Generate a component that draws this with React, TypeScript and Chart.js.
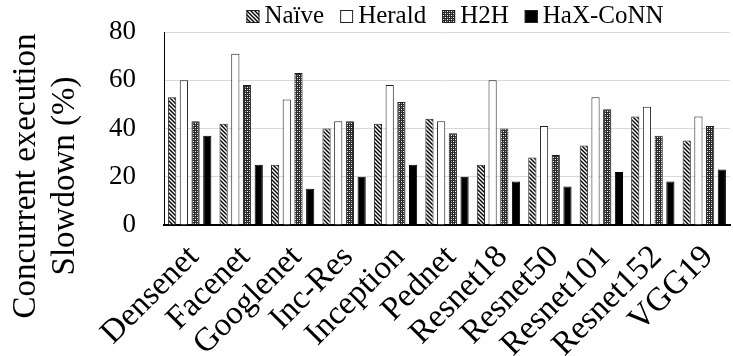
import React, { useEffect, useRef } from "react";
import { Chart, registerables } from "chart.js";

Chart.register(...registerables);

const categories = ["Densenet", "Facenet", "Googlenet", "Inc-Res", "Inception", "Pednet", "Resnet18", "Resnet50", "Resnet101", "Resnet152", "VGG19"];
const naive = [53, 42, 25, 40, 42, 44, 25, 28, 33, 45, 35];
const herald = [60, 71, 52, 43, 58, 43, 60, 41, 53, 49, 45];
const h2h = [43, 58, 63, 43, 51, 38, 40, 29, 48, 37, 41];
const haxconn = [37, 25, 15, 20, 25, 20, 18, 16, 22, 18, 23];
const yTicks = [0, 20, 40, 60, 80];
const seriesNames = ["Naïve", "Herald", "H2H", "HaX-CoNN"];
const yTitleLines = ["Concurrent execution", "Slowdown (%)"];

const FONT = "'Liberation Serif', 'Times New Roman', serif";

function stripePattern(): CanvasPattern | string {
  const c = document.createElement("canvas");
  c.width = 4;
  c.height = 4;
  const ctx = c.getContext("2d");
  if (!ctx) return "#888";
  ctx.fillStyle = "#ffffff";
  ctx.fillRect(0, 0, 4, 4);
  ctx.strokeStyle = "#000000";
  ctx.lineWidth = 1.4;
  ctx.beginPath();
  ctx.moveTo(-1, -1);
  ctx.lineTo(5, 5);
  ctx.moveTo(-1, 3);
  ctx.lineTo(1, 5);
  ctx.moveTo(3, -1);
  ctx.lineTo(5, 1);
  ctx.stroke();
  return ctx.createPattern(c, "repeat") || "#888";
}

function dotPattern(): CanvasPattern | string {
  const c = document.createElement("canvas");
  c.width = 4;
  c.height = 4;
  const ctx = c.getContext("2d");
  if (!ctx) return "#555";
  ctx.fillStyle = "#2a2a2a";
  ctx.fillRect(0, 0, 4, 4);
  ctx.fillStyle = "#ffffff";
  ctx.fillRect(1, 1, 1, 1);
  ctx.fillRect(3, 3, 1, 1);
  ctx.fillStyle = "#9a9a9a";
  ctx.fillRect(3, 1, 1, 1);
  ctx.fillRect(1, 3, 1, 1);
  return ctx.createPattern(c, "repeat") || "#555";
}

const extrasPlugin = {
  id: "extras",
  afterDraw(chart: any) {
    const ctx = chart.ctx as CanvasRenderingContext2D;
    const area = chart.chartArea;
    // y-axis title (two lines, rotated)
    ctx.save();
    ctx.fillStyle = "#000000";
    ctx.font = `33px ${FONT}`;
    ctx.textAlign = "center";
    ctx.textBaseline = "alphabetic";
    const baselines = [35, 74];
    yTitleLines.forEach((line, i) => {
      ctx.save();
      ctx.translate(baselines[i], 176);
      ctx.rotate(-Math.PI / 2);
      ctx.fillText(line, 0, 0);
      ctx.restore();
    });
    ctx.restore();

    // legend
    ctx.save();
    ctx.font = `25px ${FONT}`;
    ctx.textBaseline = "alphabetic";
    ctx.textAlign = "left";
    const box = 13;
    const gapText = 5;
    const gapItem = 16;
    const widths = chart.data.datasets.map((d: any) => box + gapText + ctx.measureText(d.label).width);
    const total = widths.reduce((a: number, b: number) => a + b, 0) + gapItem * (widths.length - 1);
    let x = (area.left + area.right) / 2 + 8 - total / 2;
    const baseY = 23;
    chart.data.datasets.forEach((d: any, i: number) => {
      ctx.fillStyle = d.backgroundColor;
      ctx.fillRect(x, baseY - box, box, box);
      ctx.strokeStyle = "#222222";
      ctx.lineWidth = 1;
      ctx.strokeRect(x + 0.5, baseY - box + 0.5, box - 1, box - 1);
      ctx.fillStyle = "#000000";
      ctx.fillText(d.label, x + box + gapText, baseY);
      x += widths[i] + gapItem;
    });
    ctx.restore();
  },
};

export default function App() {
  const ref = useRef<HTMLCanvasElement | null>(null);
  useEffect(() => {
    if (!ref.current) return;
    const stripes = stripePattern();
    const dots = dotPattern();
    const border = "#222222";
    const chart = new Chart(ref.current, {
      type: "bar",
      data: {
        labels: categories,
        datasets: [
          { label: seriesNames[0], data: naive, backgroundColor: stripes as any, borderColor: border, borderWidth: 1 },
          { label: seriesNames[1], data: herald, backgroundColor: "#ffffff", borderColor: border, borderWidth: 1 },
          { label: seriesNames[2], data: h2h, backgroundColor: dots as any, borderColor: border, borderWidth: 1 },
          { label: seriesNames[3], data: haxconn, backgroundColor: "#000000", borderColor: "#000000", borderWidth: 1 },
        ],
      },
      options: {
        responsive: false,
        animation: false,
        layout: { autoPadding: false, padding: { left: 0, right: 3, top: 32, bottom: 0 } },
        datasets: { bar: { categoryPercentage: 0.91, barPercentage: 0.7 } },
        plugins: {
          tooltip: { enabled: false },
          legend: { display: false },
        },
        scales: {
          x: {
            grid: { display: false, drawTicks: true, tickLength: 13, tickColor: "rgba(0,0,0,0)" },
            border: { display: true, color: "#000000", width: 2 },
            ticks: {
              font: { family: FONT, size: 33 },
              color: "#000000",
              minRotation: 45,
              maxRotation: 45,
              autoSkip: false,
              padding: 0,
              labelOffset: 4,
            },
            afterFit: (scale: any) => {
              scale.height = 131;
            },
          },
          y: {
            min: 0,
            max: 80,
            afterBuildTicks: (scale: any) => {
              scale.ticks = yTicks.map((v) => ({ value: v }));
            },
            grid: { color: "#d9d9d9", lineWidth: 1, drawTicks: true, tickLength: 26, tickColor: "rgba(0,0,0,0)" },
            border: { display: true, color: "#000000", width: 1 },
            ticks: {
              font: { family: FONT, size: 27 },
              color: "#000000",
              padding: 2,
            },
            afterFit: (scale: any) => {
              scale.width = 164;
            },
          },
        },
      },
      plugins: [extrasPlugin],
    });
    return () => chart.destroy();
  }, []);
  return (
    <div style={{ position: "absolute", left: 0, top: 0, width: 733, height: 356, background: "#fff" }}>
      <canvas ref={ref} width={733} height={356} />
    </div>
  );
}
